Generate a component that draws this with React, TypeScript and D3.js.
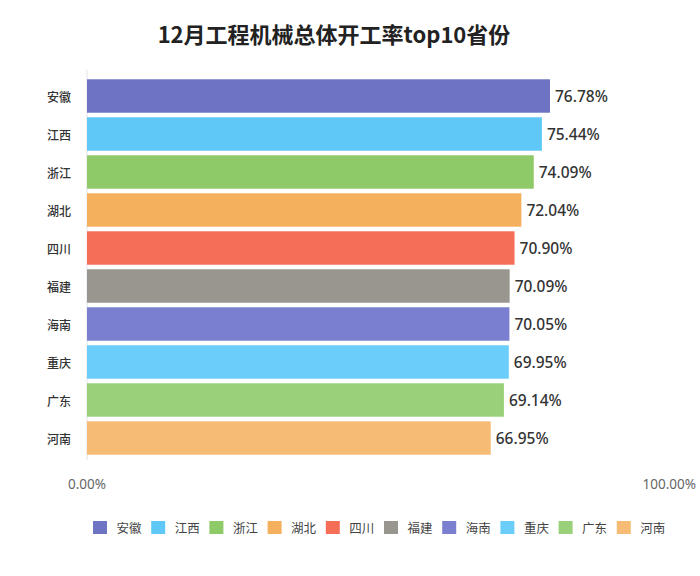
import React from "react";
import * as d3 from "d3";

const title = "12月工程机械总体开工率top10省份";
const provinces = ["安徽", "江西", "浙江", "湖北", "四川", "福建", "海南", "重庆", "广东", "河南"];
const rates = [76.78, 75.44, 74.09, 72.04, 70.9, 70.09, 70.05, 69.95, 69.14, 66.95];
const colors = ["#6e73c4", "#5fc8f6", "#8fca68", "#f5b05e", "#f56e58", "#99958f", "#7a80cf", "#6bcdf9", "#9bd07b", "#f6bb74"];
const xTicks = [0, 100];

const W = 700;
const H = 576;
const CJK = "'Noto Sans CJK SC', 'Noto Sans', sans-serif";
const LAT = "'Noto Sans', 'Open Sans', sans-serif";

export default function App() {
  const x = d3.scaleLinear().domain([0, 100]).range([87, 690]);
  const y = d3
    .scaleBand<string>()
    .domain(provinces)
    .range([77, 457])
    .paddingInner(0.12)
    .paddingOuter(0.06);
  const fmt = (v: number) => v.toFixed(2) + "%";
  const legendX = d3.scaleBand<string>().domain(provinces).range([93, 93 + 58.2 * provinces.length]);

  return (
    <div style={{ position: "absolute", left: 0, top: 0 }}>
      <svg width={W} height={H} style={{ display: "block", background: "#fff" }}>
        <text
          x={334}
          y={33}
          textAnchor="middle"
          dominantBaseline="central"
          fontFamily={CJK}
          fontWeight={700}
          fontSize={22}
          fill="#222"
        >
          {title}
        </text>

        <line x1={x(0)} x2={x(0)} y1={70} y2={460} stroke="#e3e3e8" strokeWidth={1} />

        {provinces.map((p, i) => (
          <g key={p}>
            <rect
              x={x(0)}
              y={y(p)}
              width={x(rates[i]) - x(0)}
              height={y.bandwidth()}
              fill={colors[i]}
            />
            <text
              x={71}
              y={(y(p) as number) + y.bandwidth() / 2}
              textAnchor="end"
              dominantBaseline="central"
              fontFamily={CJK}
              fontWeight={500}
              fontSize={12}
              fill="#333"
            >
              {p}
            </text>
            <text
              x={x(rates[i]) + 5}
              y={(y(p) as number) + y.bandwidth() / 2}
              dominantBaseline="central"
              fontFamily={LAT}
              fontWeight={500}
              fontSize={15.5}
              fill="#333"
            >
              {fmt(rates[i])}
            </text>
          </g>
        ))}

        {xTicks.map((t, i) => (
          <text
            key={t}
            x={i === xTicks.length - 1 ? 696 : x(t)}
            y={484}
            textAnchor={i === xTicks.length - 1 ? "end" : "middle"}
            dominantBaseline="central"
            fontFamily={LAT}
            fontSize={13.5}
            fill="#666"
          >
            {fmt(t)}
          </text>
        ))}

        {provinces.map((p, i) => (
          <g key={"lg" + p} transform={`translate(${legendX(p)},521)`}>
            <rect width={14} height={13} fill={colors[i]} />
            <text
              x={23.5}
              y={6.5}
              dominantBaseline="central"
              fontFamily={CJK}
              fontSize={12.5}
              fill="#444"
            >
              {p}
            </text>
          </g>
        ))}
      </svg>
    </div>
  );
}
